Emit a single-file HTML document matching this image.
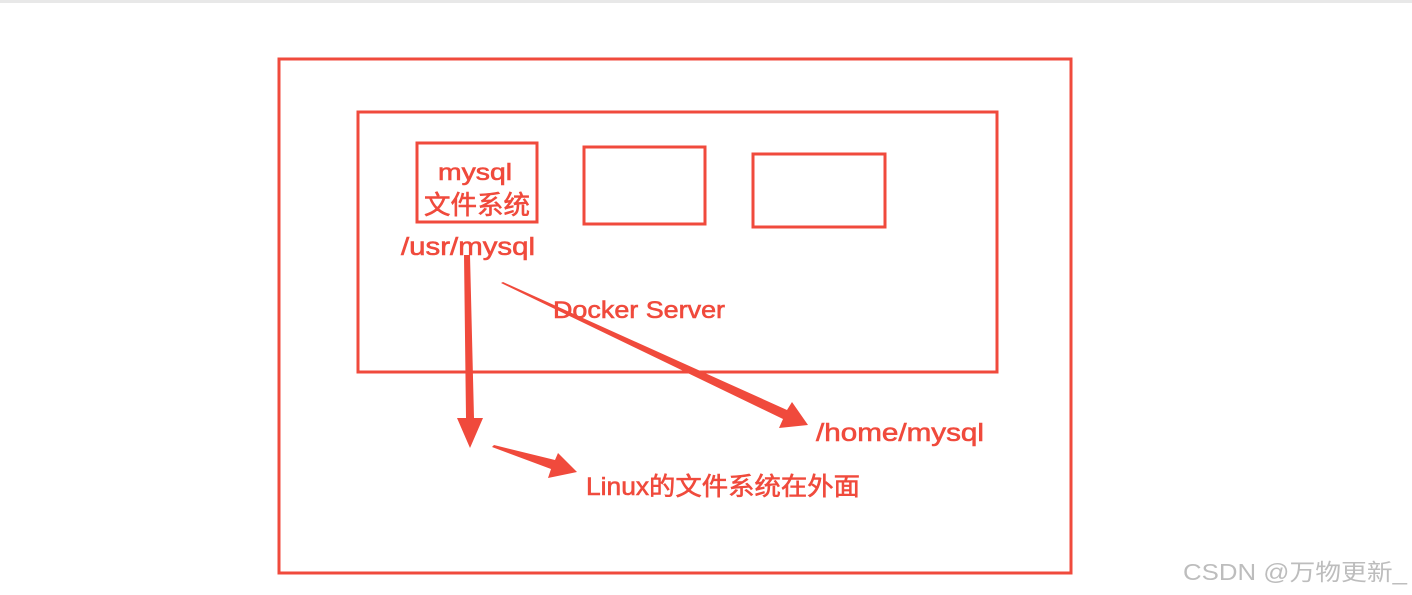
<!DOCTYPE html>
<html><head><meta charset="utf-8"><style>
html,body{margin:0;padding:0;background:#fff;}
svg{display:block;}
text{font-family:"Liberation Sans","Noto Sans CJK SC",sans-serif;}
</style></head><body>
<svg width="1412" height="595" viewBox="0 0 1412 595">
<rect x="0" y="0" width="1412" height="3" fill="#e8e8e8"/>
<g fill="none" stroke="#f04a3c" stroke-width="3">
<rect x="279" y="59" width="792" height="514"/>
<rect x="358" y="112" width="639" height="260"/>
<rect x="417" y="143" width="120" height="79"/>
<rect x="584" y="147" width="121" height="77"/>
<rect x="753" y="154" width="132" height="73"/>
</g>
<g fill="#f04a3c" stroke="#f04a3c" stroke-width="0.6">
<text x="438" y="180" font-size="23" textLength="74" lengthAdjust="spacingAndGlyphs">mysql</text>
<text x="424" y="214" font-size="26" textLength="106" lengthAdjust="spacingAndGlyphs">文件系统</text>
<text x="401" y="255" font-size="25" textLength="134" lengthAdjust="spacingAndGlyphs">/usr/mysql</text>
<text x="553" y="318" font-size="24" textLength="172" lengthAdjust="spacingAndGlyphs">Docker Server</text>
<text x="816" y="441" font-size="25" textLength="168" lengthAdjust="spacingAndGlyphs">/home/mysql</text>
<text x="586" y="495" font-size="25" textLength="274" lengthAdjust="spacingAndGlyphs">Linux的文件系统在外面</text>
</g>
<g fill="#f04a3c">
<polygon points="464,255 470,255 474,418 483,418 470,448 457,418 466,418"/>
<polygon points="501,283 503,282 787,410 792,402 808,425 779,428 783,419"/>
<polygon points="492,447 494,445 555,460 558,453 577,472 548,478 551,469"/>
</g>
<text x="1183" y="580" font-size="23" fill="#bdbdbd" textLength="224" lengthAdjust="spacingAndGlyphs">CSDN @万物更新_</text>
</svg>
</body></html>
